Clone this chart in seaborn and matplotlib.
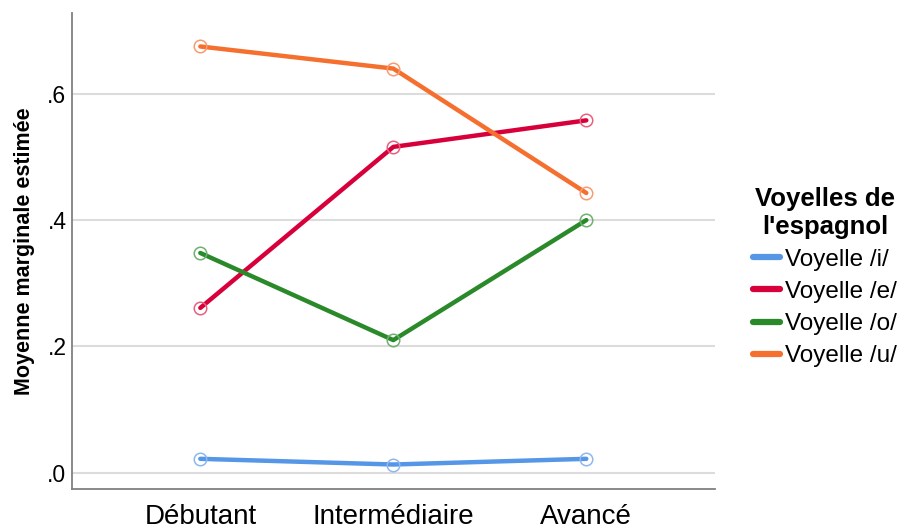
import pandas as pd
import matplotlib
matplotlib.use("Agg")
import matplotlib.pyplot as plt
from matplotlib.ticker import FuncFormatter
import seaborn as sns

# data ======================================================================
niveaux = ["Débutant", "Intermédiaire", "Avancé"]
voyelles = ["Voyelle /i/", "Voyelle /e/", "Voyelle /o/", "Voyelle /u/"]
moy_i = [0.022, 0.013, 0.022]
moy_e = [0.261, 0.516, 0.558]
moy_o = [0.348, 0.210, 0.400]
moy_u = [0.675, 0.640, 0.443]

line_colors = ["#5596E6", "#D8003A", "#2A8A2A", "#F5702E"]
marker_colors = ["#8DB8EE", "#E8607F", "#6FB06F", "#F89C70"]

rows = []
for v, vals in zip(voyelles, [moy_i, moy_e, moy_o, moy_u]):
    for n, m in zip(niveaux, vals):
        rows.append({"Niveau": n, "Voyelle": v, "Moyenne": m})
data = pd.DataFrame(rows)

# plot ======================================================================
sns.set_style("white")
plt.rcParams["font.family"] = ["Liberation Sans", "DejaVu Sans"]
plt.rcParams["text.color"] = "black"
plt.rcParams["axes.labelcolor"] = "black"
plt.rcParams["xtick.color"] = "black"
plt.rcParams["ytick.color"] = "black"

fig = plt.figure(figsize=(9.01, 5.29), dpi=100)
ax = fig.add_axes([0.0799, 0.0756, 0.7137, 0.8998])

sns.lineplot(data=data, x="Niveau", y="Moyenne", hue="Voyelle", hue_order=voyelles,
             palette=line_colors, linewidth=3.2, marker="o", markersize=9,
             markerfacecolor="none", markeredgewidth=1.1, ax=ax, legend=True,
             sort=False)

for line, mc in zip(ax.lines, marker_colors):
    line.set_markeredgecolor(mc)

ax.set_xlim(-0.665, 2.667)
ax.set_ylim(-0.0258, 0.728)
ax.set_yticks([0.0, 0.2, 0.4, 0.6])
ax.yaxis.set_major_formatter(FuncFormatter(lambda v, p: f"{v:.1f}".lstrip("0")))
ax.grid(axis="y", color="#dcdcdc", linewidth=1.5)
ax.set_axisbelow(True)
ax.tick_params(axis="x", labelsize=20, pad=11, length=0)
ax.tick_params(axis="y", labelsize=16.5, pad=4, length=0)
sns.despine(ax=ax)
for s in ["left", "bottom"]:
    ax.spines[s].set_color("#808080")
    ax.spines[s].set_linewidth(1.3)

ax.set_xlabel("")
ax.set_ylabel("Moyenne marginale estimée", fontsize=15.5, fontweight="bold", labelpad=9)

handles, labels = ax.get_legend_handles_labels()
ax.legend_.remove()
leg = fig.legend(handles, labels, title="Voyelles de\nl'espagnol", loc="upper left",
                 bbox_to_anchor=(0.836, 0.647), frameon=False, fontsize=17.5,
                 title_fontproperties={"weight": "bold", "size": 18.5},
                 handlelength=1.1, handletextpad=0.2, labelspacing=0.42,
                 borderaxespad=0, borderpad=0)
leg.get_title().set_multialignment("center")
for h in leg.legend_handles:
    h.set_marker("")
    h.set_linewidth(4.5)

fig.savefig("out.png", dpi=100)
